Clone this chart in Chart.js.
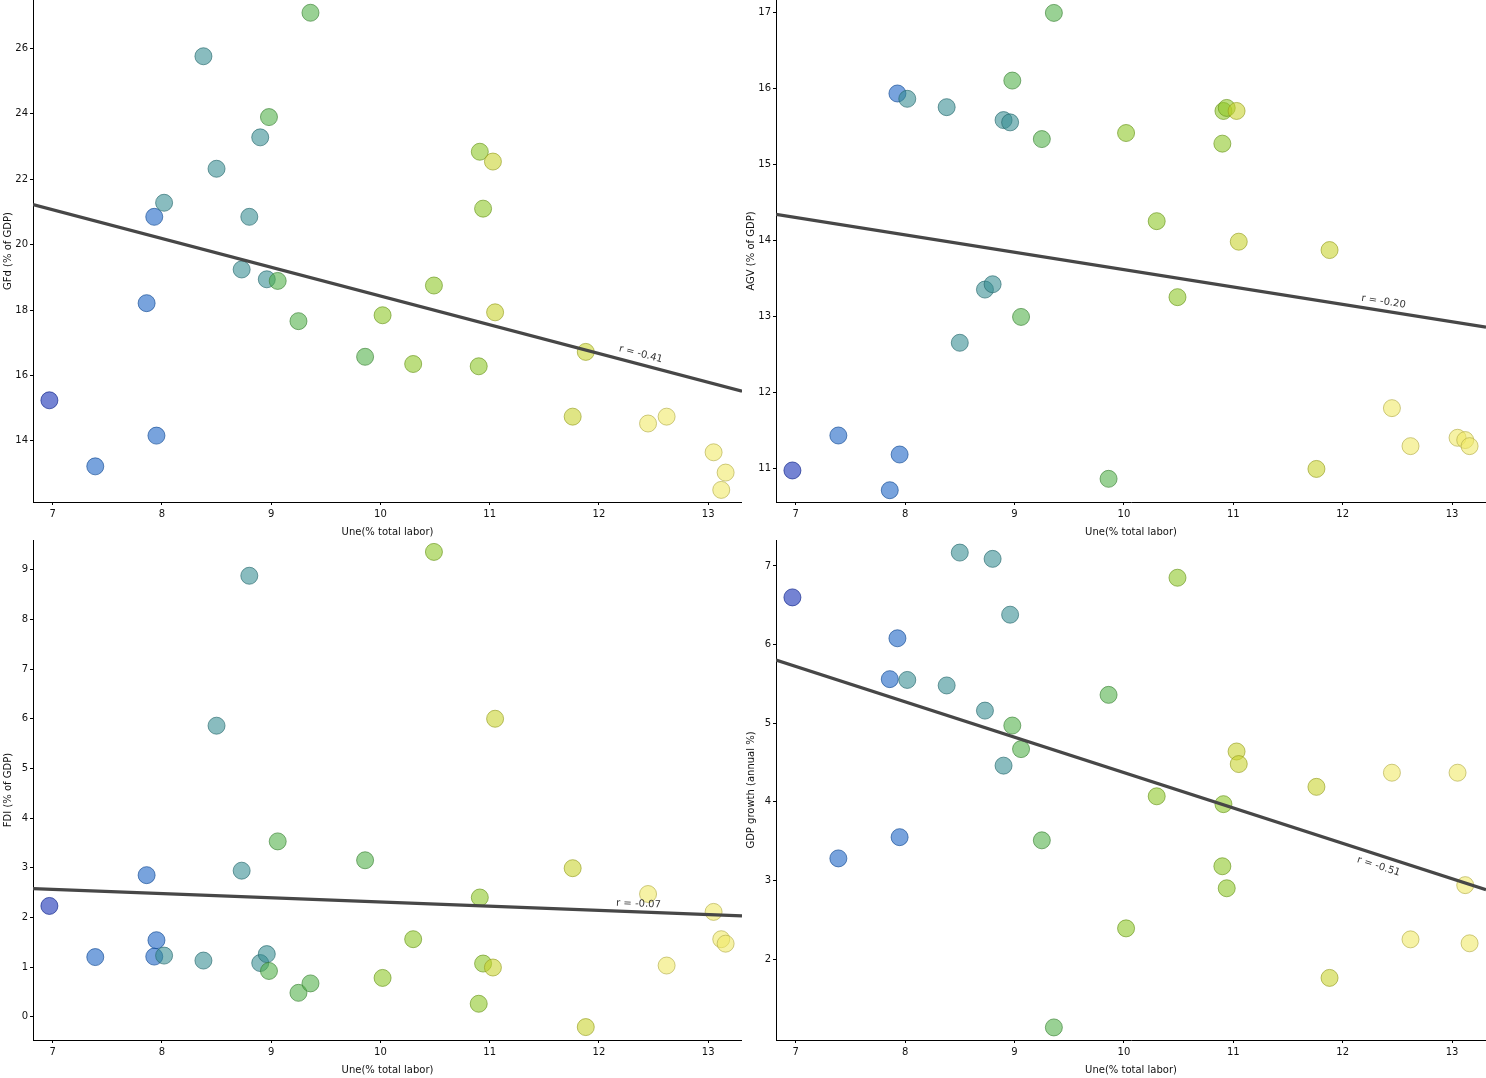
<!DOCTYPE html>
<html>
<head>
<meta charset="utf-8">
<script src="https://cdn.jsdelivr.net/npm/chart.js@4.4.0/dist/chart.umd.min.js"></script>
<style>
  html, body { margin: 0; padding: 0; background: #fff; }
  body { width: 1486px; height: 1078px; position: relative; overflow: hidden; }
  canvas { position: absolute; }
</style>
</head>
<body>
<canvas id="gfdChart" width="742" height="540" style="left:0;top:0"></canvas>
<canvas id="agvChart" width="743" height="540" style="left:743px;top:0"></canvas>
<canvas id="fdiChart" width="742" height="538" style="left:0;top:540px"></canvas>
<canvas id="gdpChart" width="743" height="538" style="left:743px;top:540px"></canvas>
<script>
// Datos: desempleo (eje x) y las cuatro variables
const unemployment = [6.97, 7.39, 7.86, 7.93, 7.95, 8.02, 8.38, 8.50, 8.73, 8.80, 8.90, 8.96, 8.98, 9.06, 9.25, 9.36,
                      9.86, 10.02, 10.30, 10.49, 10.90, 10.91, 10.94, 11.03, 11.05, 11.76, 11.88, 12.45, 12.62, 13.05, 13.12, 13.16];
const gfd = [15.24, 13.22, 18.21, 20.85, 14.16, 21.28, 25.76, 22.32, 19.24, 20.85, 23.28, 18.94, 23.90, 18.89, 17.66, 27.09,
             16.57, 17.84, 16.35, 18.75, 16.28, 22.84, 21.10, 22.54, 17.93, 14.74, 16.72, 14.53, 14.74, 13.65, 12.50, 13.03];
const agv = [10.97, 11.43, 10.71, 15.93, 11.18, 15.86, 15.75, 12.65, 13.35, 13.42, 15.58, 15.55, 16.10, 12.99, 15.33, 16.99,
             10.86, 15.41, 14.25, 13.25, 15.27, 15.70, 15.74, 15.70, 13.98, 10.99, 13.87, 11.79, 11.29, 11.40, 11.37, 11.29];
const fdi = [2.23, 1.20, 2.85, 1.21, 1.54, 1.23, 1.13, 5.86, 2.94, 8.88, 1.08, 1.26, 0.92, 3.53, 0.48, 0.67,
             3.15, 0.78, 1.56, 9.36, 0.26, 2.40, 1.07, 0.99, 6.00, 2.99, -0.21, 2.47, 1.03, 2.11, 1.56, 1.47];
const gdpGrowth = [6.60, 3.28, 5.56, 6.08, 3.55, 5.55, 5.48, 7.17, 5.16, 7.09, 4.46, 6.38, 4.97, 4.67, 3.51, 1.13,
                   5.36, 2.39, 4.07, 6.85, 3.18, 3.97, 2.90, 4.64, 4.48, 4.19, 1.76, 4.37, 2.25, 4.37, 2.94, 2.20];

const rLabels = ['r = -0.41', 'r = -0.20', 'r = -0.07', 'r = -0.51'];
const xTicks = [7, 8, 9, 10, 11, 12, 13];
const gfdTicks = [14, 16, 18, 20, 22, 24, 26];
const agvTicks = [11, 12, 13, 14, 15, 16, 17];
const fdiTicks = [0, 1, 2, 3, 4, 5, 6, 7, 8, 9];
const gdpTicks = [2, 3, 4, 5, 6, 7];

Chart.defaults.font.family = '"DejaVu Sans", Verdana, sans-serif';
Chart.defaults.font.size = 10;
Chart.defaults.color = '#111';

// colores por tramo de desempleo
const binEdges = [7.2, 8.0, 8.97, 9.95, 11.0, 12.0];
const binColors = [[15, 42, 180], [22, 97, 197], [52, 140, 145], [80, 175, 70], [140, 198, 35], [200, 210, 43], [240, 232, 100]];

function colorFor(x, alpha, dark) {
    let i = 0;
    while (i < binEdges.length && x >= binEdges[i]) i++;
    const c = binColors[i].map(v => Math.round(v * dark));
    return 'rgba(' + c.join(',') + ',' + alpha + ')';
}

function fit(xs, ys) {
    const n = xs.length;
    const mx = xs.reduce((a, b) => a + b, 0) / n;
    const my = ys.reduce((a, b) => a + b, 0) / n;
    let sxy = 0, sxx = 0;
    for (let i = 0; i < n; i++) {
        sxy += (xs[i] - mx) * (ys[i] - my);
        sxx += (xs[i] - mx) * (xs[i] - mx);
    }
    const b = sxy / sxx;
    return { b: b, a: my - b * mx };
}

// texto r sobre la recta
const rLabelPlugin = {
    id: 'rLabel',
    afterDatasetsDraw(chart, args, opts) {
        const pts = chart.getDatasetMeta(0).data;
        const p0 = pts[0], p1 = pts[1];
        const ang = Math.atan2(p1.y - p0.y, p1.x - p0.x);
        const x0 = chart.scales.x.getPixelForValue(opts.at);
        const y0 = p0.y + (x0 - p0.x) / (p1.x - p0.x) * (p1.y - p0.y);
        const ctx = chart.ctx;
        ctx.save();
        ctx.translate(x0 + Math.sin(ang) * opts.offset, y0 - Math.cos(ang) * opts.offset);
        ctx.rotate(ang);
        ctx.font = '10px "DejaVu Sans", Verdana, sans-serif';
        ctx.fillStyle = '#333';
        ctx.textAlign = 'center';
        ctx.textBaseline = 'middle';
        ctx.fillText(opts.text, 0, 0);
        ctx.restore();
    }
};

const X_MIN = 6.82, X_MAX = 13.31;

function crearPanel(id, ys, yTitle, yMin, yMax, yTicks, label, offset) {
    const f = fit(unemployment, ys);
    const puntos = unemployment.map((x, i) => ({ x: x, y: ys[i] }));
    new Chart(document.getElementById(id), {
        type: 'scatter',
        data: {
            datasets: [
                {
                    data: [{ x: X_MIN, y: f.a + f.b * X_MIN }, { x: X_MAX, y: f.a + f.b * X_MAX }],
                    showLine: true,
                    borderColor: '#474747',
                    borderWidth: 3.2,
                    pointRadius: 0
                },
                {
                    data: puntos,
                    backgroundColor: unemployment.map(x => colorFor(x, 0.58, 1)),
                    borderColor: unemployment.map(x => colorFor(x, 0.65, 0.75)),
                    borderWidth: 1,
                    pointRadius: 8.5,
                    pointHoverRadius: 8.5
                }
            ]
        },
        options: {
            responsive: false,
            animation: false,
            events: [],
            layout: { padding: 0, autoPadding: false },
            plugins: {
                legend: { display: false },
                tooltip: { enabled: false },
                rLabel: { text: label, at: 12.36, offset: offset }
            },
            scales: {
                x: {
                    type: 'linear',
                    min: X_MIN,
                    max: X_MAX,
                    afterBuildTicks: s => { s.ticks = xTicks.map(v => ({ value: v })); },
                    afterFit: s => { s.height = 38; s.paddingLeft = 0; s.paddingRight = 0; },
                    ticks: { padding: 3, maxRotation: 0 },
                    grid: { drawOnChartArea: false, tickLength: 3, color: '#000' },
                    border: { display: true, color: '#000', width: 1 },
                    title: { display: true, text: 'Une(% total labor)', padding: { top: 0, bottom: 2 } }
                },
                y: {
                    min: yMin,
                    max: yMax,
                    afterBuildTicks: s => { s.ticks = yTicks.map(v => ({ value: v })); },
                    afterFit: s => { s.width = 33; s.paddingTop = 0; s.paddingBottom = 0; },
                    ticks: { padding: 2 },
                    grid: { drawOnChartArea: false, tickLength: 3, color: '#000' },
                    border: { display: true, color: '#000', width: 1 },
                    title: { display: true, text: yTitle, padding: { top: 2, bottom: 0 } }
                }
            }
        },
        plugins: [rLabelPlugin]
    });
}

document.addEventListener('DOMContentLoaded', function() {
    crearPanel('gfdChart', gfd, 'GFd (% of GDP)', 12.13, 27.48, gfdTicks, rLabels[0], 10);
    crearPanel('agvChart', agv, 'AGV (% of GDP)', 10.555, 17.16, agvTicks, rLabels[1], 9);
    crearPanel('fdiChart', fdi, 'FDI (% of GDP)', -0.47, 9.60, fdiTicks, rLabels[2], 8);
    crearPanel('gdpChart', gdpGrowth, 'GDP growth (annual %)', 0.97, 7.33, gdpTicks, rLabels[3], -11);
});
</script>
</body>
</html>
